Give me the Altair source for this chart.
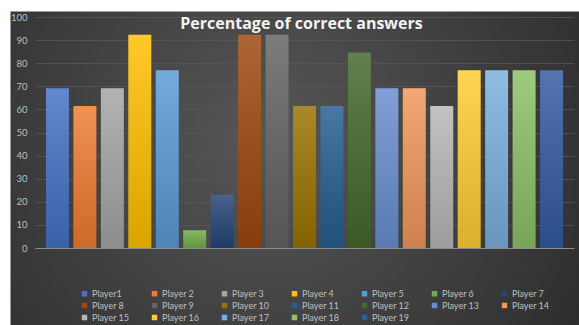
import altair as alt
import pandas as pd

players = ["Player1", "Player 2", "Player 3", "Player 4", "Player 5", "Player 6", "Player 7",
           "Player 8", "Player 9", "Player 10", "Player 11", "Player 12", "Player 13", "Player 14",
           "Player 15", "Player 16", "Player 17", "Player 18", "Player 19"]
values = [69.2, 61.5, 69.2, 92.3, 76.9, 7.7, 23.1, 92.3, 92.3, 61.5, 61.5, 84.6, 69.2, 69.2,
          61.5, 76.9, 76.9, 76.9, 76.9]
colors = ["#4472C4", "#ED7D31", "#A5A5A5", "#FFC000", "#5B9BD5", "#70AD47", "#264478",
          "#9E480E", "#636363", "#997300", "#255E91", "#43682B", "#698ED0", "#F1975A",
          "#B7B7B7", "#FFCD33", "#7CAFDD", "#8CC168", "#335AA1"]
y_ticks = [0, 10, 20, 30, 40, 50, 60, 70, 80, 90, 100]
title_text = "Percentage of correct answers"

df = pd.DataFrame({"player": players, "value": values})

x_enc = alt.X(
    "player:N", sort=players,
    scale=alt.Scale(domain=players, range=[25, 564], paddingInner=0.164, paddingOuter=0.4),
    axis=alt.Axis(title=None, labels=False, ticks=False, domain=True, domainColor="#8c8c8c",
                  domainWidth=1.2, grid=False, offset=-77),
)
y_enc = alt.Y(
    "value:Q",
    scale=alt.Scale(domain=[0, 100], range=[237, 6], nice=False, zero=True),
    axis=alt.Axis(title=None, values=y_ticks, grid=True, gridColor="#575757", gridWidth=0.8,
                  domain=False, ticks=False, tickSize=0, labelPadding=8, labelColor="#bfbfbf",
                  labelFont="Lato", labelFontSize=9.5, offset=-25),
)

bars = alt.Chart(df).mark_bar().encode(
    x=x_enc,
    y=y_enc,
    color=alt.Color(
        "player:N", sort=players,
        scale=alt.Scale(domain=players, range=colors),
        legend=alt.Legend(title=None, orient="none", legendX=70, legendY=278,
                          direction="horizontal", columns=7, symbolType="square",
                          symbolSize=30, symbolStrokeWidth=0, labelColor="#bfbfbf",
                          labelFont="Lato", labelFontSize=9, columnPadding=20,
                          rowPadding=2, gridAlign="all", padding=0, labelOffset=3),
    ),
)

shade = alt.Chart(df).mark_bar(
    color=alt.Gradient(
        gradient="linear", x1=0, y1=0, x2=0, y2=1,
        stops=[alt.GradientStop(offset=0, color="rgba(255,255,255,0.16)"),
               alt.GradientStop(offset=1, color="rgba(0,0,0,0.14)")],
    )
).encode(x=x_enc, y=y_enc)

bg_expr = ("{gradient: 'radial', x1: 0.45, y1: 0.45, r1: 0, x2: 0.45, y2: 0.45, r2: 0.75, "
           "stops: [{offset: 0, color: '#575757'}, {offset: 1, color: '#262626'}]}")

chart = alt.layer(bars, shade).properties(
    width=569, height=314,
    autosize="none",
    padding={"left": 10, "top": 11, "right": 0, "bottom": 0},
    background="white",
    title=alt.TitleParams(title_text, font="Open Sans", fontSize=16, fontWeight="bold",
                          color="#f2f2f2", offset=-21, anchor="middle", dx=7),
).configure_view(
    fill=alt.ExprRef(expr=bg_expr),
    strokeOpacity=0,
)

chart.save("out.html", embed_options={"renderer": "svg", "actions": False})
